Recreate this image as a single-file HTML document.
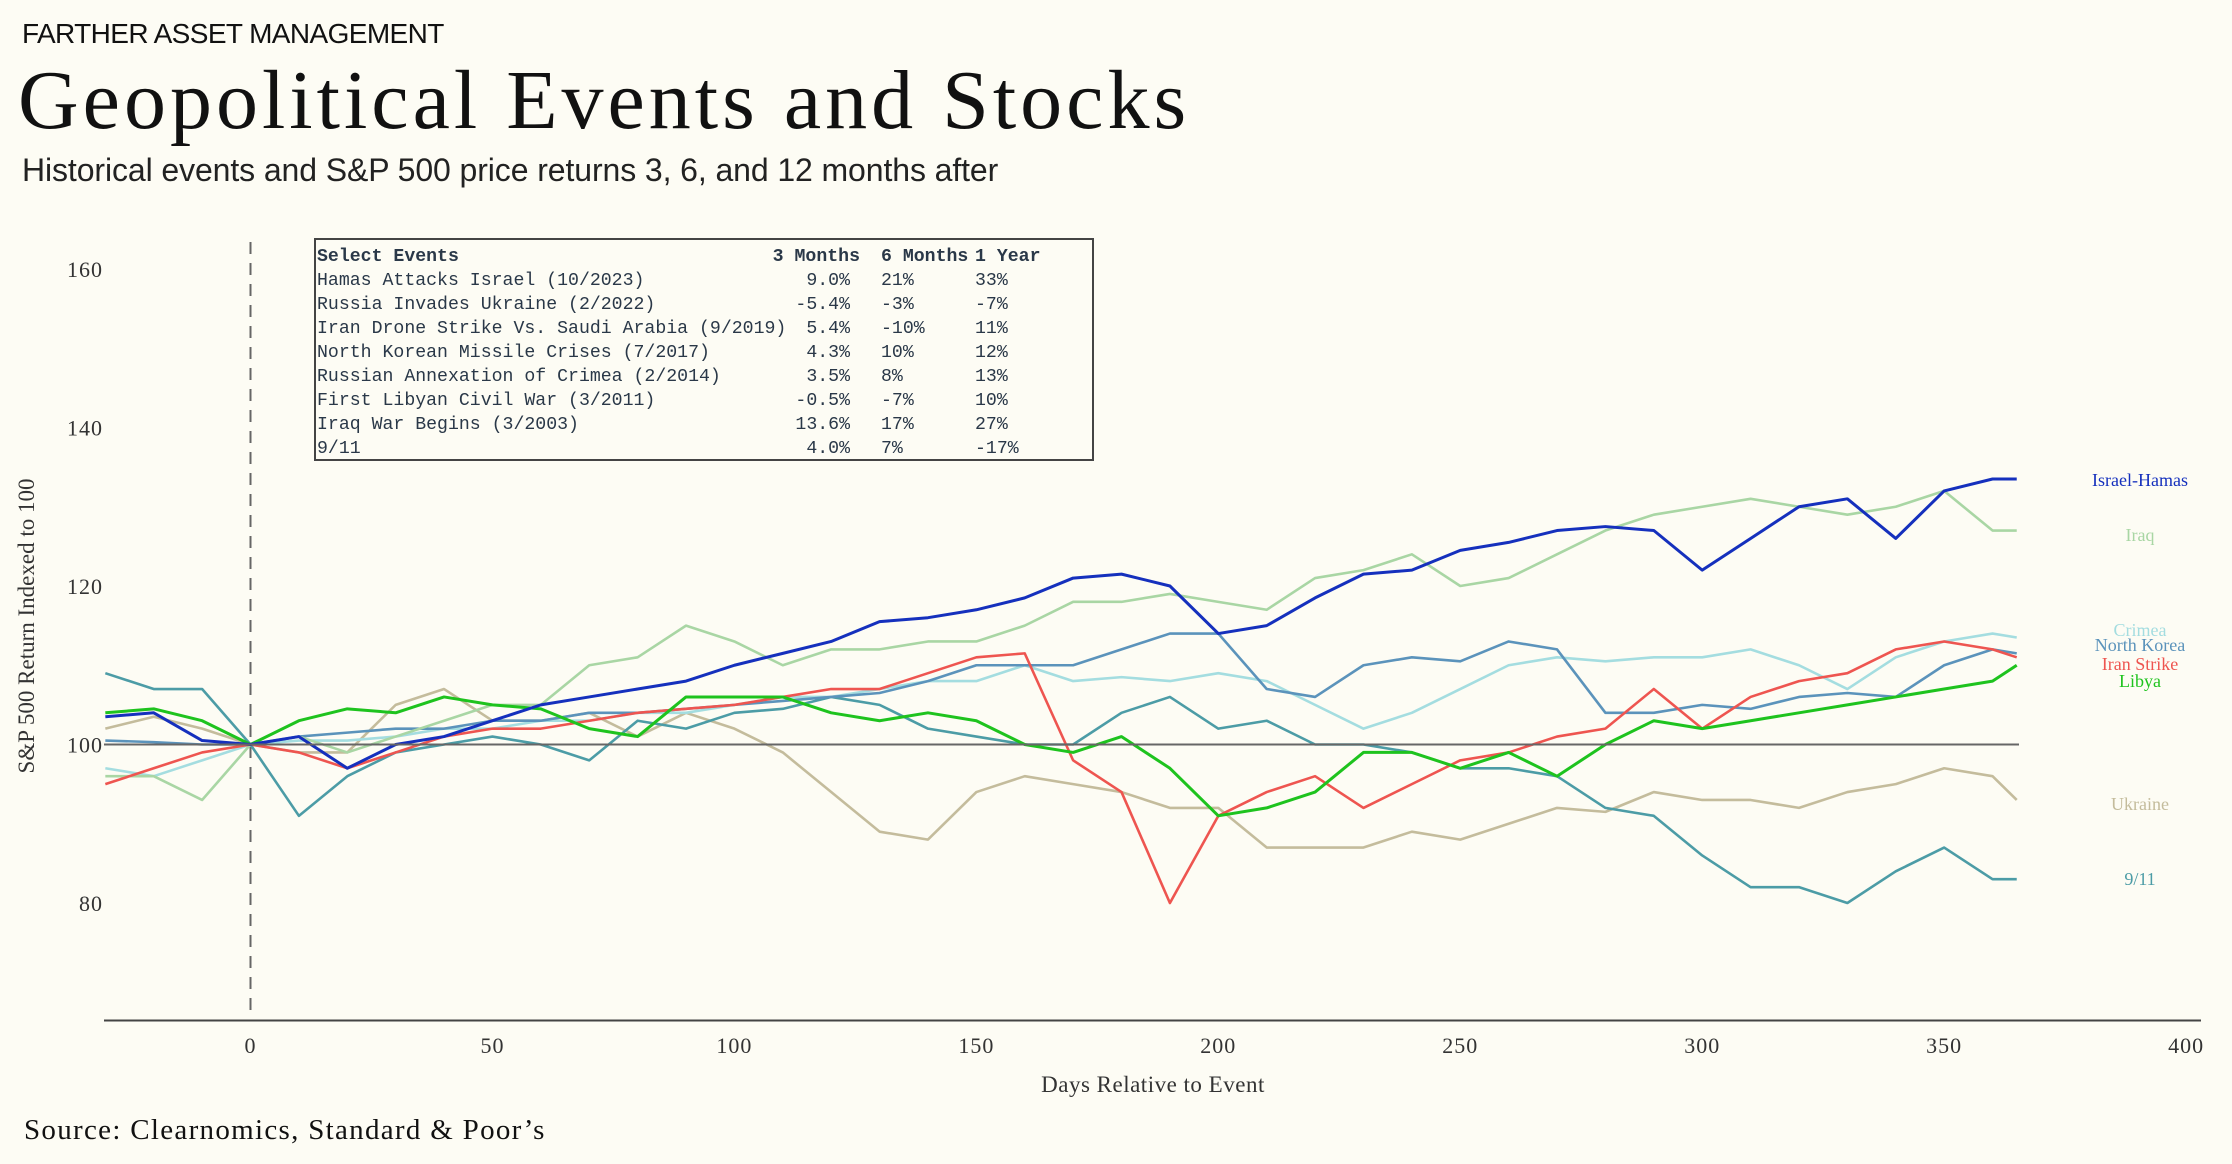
<!DOCTYPE html>
<html><head><meta charset="utf-8"><style>
html,body{margin:0;padding:0;background:#fdfcf4;}
body{width:2232px;height:1164px;position:relative;overflow:hidden;font-family:"Liberation Sans",sans-serif;}
.t{position:absolute;white-space:nowrap;}
</style></head><body>
<div class="t" style="left:22px;top:18px;font-size:28px;color:#111;letter-spacing:-0.6px;">FARTHER ASSET MANAGEMENT</div>
<div class="t" style="left:18px;top:52px;font-family:'Liberation Serif',serif;font-size:84px;color:#111;letter-spacing:4px;">Geopolitical Events and Stocks</div>
<div class="t" style="left:22px;top:152px;font-size:32px;color:#222;letter-spacing:-0.1px;">Historical events and S&amp;P 500 price returns 3, 6, and 12 months after</div>
<div class="t" style="left:24px;top:1114px;font-family:'Liberation Serif',serif;font-size:29px;color:#111;letter-spacing:1.3px;">Source: Clearnomics, Standard &amp; Poor’s</div>
<svg id="chart" width="2232" height="1164" style="position:absolute;left:0;top:0;"></svg>
<script>
const days=[-30,-20,-10,0,10,20,30,40,50,60,70,80,90,100,110,120,130,140,150,160,170,180,190,200,210,220,230,240,250,260,270,280,290,300,310,320,330,340,350,360,365];
const israelHamas=[103.5,104,100.5,100,101,97,100,101,103,105,106,107,108,110,111.5,113,115.5,116,117,118.5,121,121.5,120,114,115,118.5,121.5,122,124.5,125.5,127,127.5,127,122,126,130,131,126,132,133.5,133.5];
const iraq=[96,96,93,100,101,99,101,103,105,105,110,111,115,113,110,112,112,113,113,115,118,118,119,118,117,121,122,124,120,121,124,127,129,130,131,130,129,130,132,127,127];
const crimea=[97,96,98,100,100.5,100.5,101,102,102,103,103,104,104,105,106,106,107,108,108,110,108,108.5,108,109,108,105,102,104,107,110,111,110.5,111,111,112,110,107,111,113,114,113.5];
const northKorea=[100.5,100.3,100,100,101,101.5,102,102,103,103,104,104,104.5,105,105.5,106,106.5,108,110,110,110,112,114,114,107,106,110,111,110.5,113,112,104,104,105,104.5,106,106.5,106,110,112,111.5];
const iranStrike=[95,97,99,100,99,97,99,101,102,102,103,104,104.5,105,106,107,107,109,111,111.5,98,94,80,91,94,96,92,95,98,99,101,102,107,102,106,108,109,112,113,112,111];
const libya=[104,104.5,103,100,103,104.5,104,106,105,104.5,102,101,106,106,106,104,103,104,103,100,99,101,97,91,92,94,99,99,97,99,96,100,103,102,103,104,105,106,107,108,110];
const ukraine=[102,103.5,102,100,99,99,105,107,103,103,104,101,104,102,99,94,89,88,94,96,95,94,92,92,87,87,87,89,88,90,92,91.5,94,93,93,92,94,95,97,96,93];
const nineEleven=[109,107,107,100,91,96,99,100,101,100,98,103,102,104,104.5,106,105,102,101,100,100,104,106,102,103,100,100,99,97,97,96,92,91,86,82,82,80,84,87,83,83];
const xTicks=[0,50,100,150,200,250,300,350,400];
const yTicks=[80,100,120,140,160];
const tableHeader=["Select Events","3 Months","6 Months","1 Year"];
const tableEvents=["Hamas Attacks Israel (10/2023)","Russia Invades Ukraine (2/2022)","Iran Drone Strike Vs. Saudi Arabia (9/2019)","North Korean Missile Crises (7/2017)","Russian Annexation of Crimea (2/2014)","First Libyan Civil War (3/2011)","Iraq War Begins (3/2003)","9/11"];
const table3m=["9.0%","-5.4%","5.4%","4.3%","3.5%","-0.5%","13.6%","4.0%"];
const table6m=["21%","-3%","-10%","10%","8%","-7%","17%","7%"];
const table1y=["33%","-7%","11%","12%","13%","10%","27%","-17%"];

const NS="http://www.w3.org/2000/svg";
const svg=document.getElementById('chart');
const xS=d=>250.5+d*4.839;
const yS=v=>744.5-(v-100)*7.925;
function mk(tag,attrs,parent){const e=document.createElementNS(NS,tag);for(const k in attrs)e.setAttribute(k,attrs[k]);(parent||svg).appendChild(e);return e;}
const serif="'Liberation Serif',serif";

let e=mk('line',{x1:104,y1:1020.5,x2:2201,y2:1020.5,stroke:'#444','stroke-width':2});


e=mk('line',{x1:xS(0),y1:242,x2:xS(0),y2:1018,stroke:'#666','stroke-width':2,'stroke-dasharray':'12,9'});


xTicks.forEach(t=>{
  const l=mk('text',{x:xS(t),y:1053,'text-anchor':'middle','font-family':serif,'font-size':22,fill:'#333','letter-spacing':1});
  l.textContent=t;
  
  
});
yTicks.forEach(t=>{
  const l=mk('text',{x:103,y:yS(t)+8,'text-anchor':'end','font-family':serif,'font-size':22,fill:'#333','letter-spacing':1});
  l.textContent=t;
  
  
});
e=mk('text',{x:1153,y:1092,'text-anchor':'middle','font-family':serif,'font-size':23,fill:'#333','letter-spacing':0.5});
e.textContent='Days Relative to Event';


e=mk('text',{x:0,y:0,'text-anchor':'middle','font-family':serif,'font-size':23,fill:'#333',transform:'translate(34,626) rotate(-90)'});
e.textContent='S&P 500 Return Indexed to 100';



const series=[
 {n:'ukraine',v:ukraine,c:'#c4bc9c',lab:'Ukraine',ly:804},
 {n:'nine-eleven',v:nineEleven,c:'#4c9ca6',lab:'9/11',ly:879},
 {n:'crimea',v:crimea,c:'#a4dde0',lab:'Crimea',ly:630},
 {n:'north-korea',v:northKorea,c:'#5b93bb',lab:'North Korea',ly:645},
 {n:'iraq',v:iraq,c:'#a9d6a4',lab:'Iraq',ly:535},
 {n:'iran-strike',v:iranStrike,c:'#ee5550',lab:'Iran Strike',ly:664},
 {n:'libya',v:libya,c:'#1ec31e',lab:'Libya',ly:681},
 {n:'israel-hamas',v:israelHamas,c:'#1530bd',lab:'Israel-Hamas',ly:480}
];
series.forEach(s=>{
  const p=mk('polyline',{points:days.map((d,i)=>xS(d)+','+yS(s.v[i])).join(' '),fill:'none',stroke:s.c,'stroke-width':s.n==='israel-hamas'||s.n==='libya'?3:2.6,'stroke-linejoin':'round'});
  
  
  const l=mk('text',{x:2140,y:s.ly+6,'text-anchor':'middle','font-family':serif,'font-size':18,fill:s.c});
  l.textContent=s.lab;
  
  
});
e=mk('line',{x1:104,y1:yS(100),x2:2019,y2:yS(100),stroke:'#666','stroke-width':2});



const g=mk('g',{});


mk('rect',{x:315,y:239,width:778,height:221,fill:'#fdfcf4',stroke:'#444','stroke-width':2},g);
const mono="'Liberation Mono',monospace";
const fs=18.2;
function cell(txt,x,y,anchor,bold){
  const t=mk('text',{x:x,y:y,'text-anchor':anchor,'font-family':mono,'font-size':fs,fill:'#2a3848','font-weight':bold?'bold':'normal'},g);
  t.textContent=txt;
  
  
}
cell(tableHeader[0],317,261,'start',true);
cell(tableHeader[1],860,261,'end',true);
cell(tableHeader[2],881,261,'start',true);
cell(tableHeader[3],975,261,'start',true);
tableEvents.forEach((ev,r)=>{
  const y=285+r*24;
  cell(ev,317,y,'start',false);
  cell(table3m[r],850,y,'end',false);
  cell(table6m[r],881,y,'start',false);
  cell(table1y[r],975,y,'start',false);
});
</script>
</body></html>
